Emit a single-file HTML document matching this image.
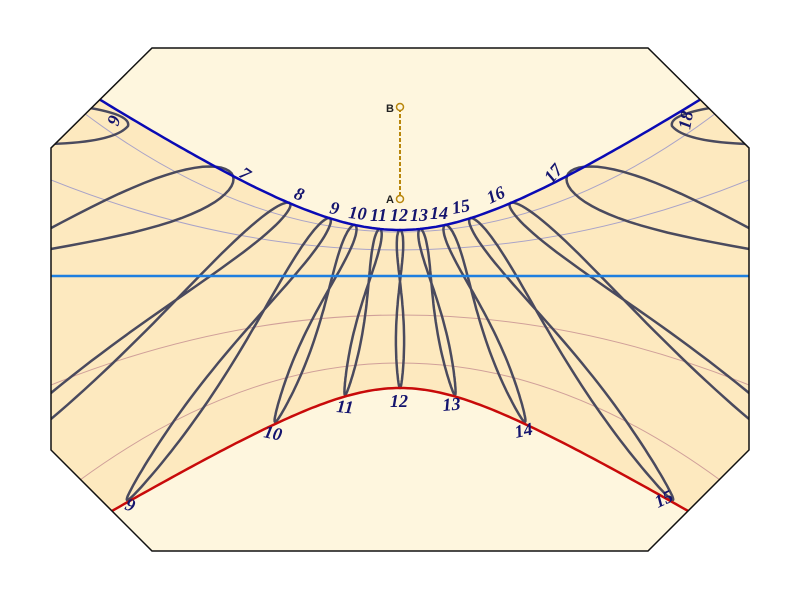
<!DOCTYPE html>
<html><head><meta charset="utf-8"><style>
html,body{margin:0;padding:0;background:#fff;width:800px;height:600px;overflow:hidden}
svg{display:block}
.lb{font-family:"Liberation Serif",serif;font-style:italic;font-weight:bold;font-size:18px;fill:#14146e}
</style></head><body>
<svg id="s" width="800" height="600" viewBox="0 0 800 600">
<defs><clipPath id="oct"><polygon points="152,48 648,48 749,148 749,450 648,551 152,551 51,450 51,148"/></clipPath></defs>
<polygon points="152,48 648,48 749,148 749,450 648,551 152,551 51,450 51,148" fill="#fef6de"/>
<g clip-path="url(#oct)">
<path id="dark" fill="#fde9bf"/>
<path d="M51,180 Q400,320 749,180" fill="none" stroke="#a9a3c8" stroke-width="1"/>
<path d="M80,110 Q400,354 720,110" fill="none" stroke="#a9a3c8" stroke-width="1"/>
<path d="M51,385 Q400,245 749,385" fill="none" stroke="#d0a09a" stroke-width="1"/>
<path d="M80,480 Q400,246 720,480" fill="none" stroke="#d0a09a" stroke-width="1"/>
<g id="ana" fill="none" stroke="#4a4a5e" stroke-width="2.5"></g>
<path d="M62,104 Q132,112 128,126 Q115,142 51,144" fill="none" stroke="#4a4a5e" stroke-width="2.5"/>
<path d="M738,104 Q668,112 672,126 Q685,142 749,144" fill="none" stroke="#4a4a5e" stroke-width="2.5"/>
<line x1="51" y1="276" x2="749" y2="276" stroke="#1e7fe0" stroke-width="2.5"/>
<path id="blue" fill="none" stroke="#0a0ab4" stroke-width="2.5"/>
<path id="red" fill="none" stroke="#c80a0a" stroke-width="2.5"/>
</g>
<polygon points="152,48 648,48 749,148 749,450 648,551 152,551 51,450 51,148" fill="none" stroke="#111" stroke-width="1.5"/>
<line x1="400" y1="108" x2="400" y2="198" stroke="#b8860b" stroke-width="2" stroke-dasharray="4,2"/>
<circle cx="400" cy="107" r="3.5" fill="#fef6de" stroke="#b8860b" stroke-width="1.5"/>
<circle cx="400" cy="199" r="3.5" fill="#fef6de" stroke="#b8860b" stroke-width="1.5"/>
<text x="386" y="112" font-family="Liberation Sans,sans-serif" font-size="11" font-weight="bold" fill="#222">B</text>
<text x="386" y="203" font-family="Liberation Sans,sans-serif" font-size="11" font-weight="bold" fill="#222">A</text>
<g class="lb">
<text transform="translate(110,114) rotate(110)">6</text>
<text transform="translate(238,176) rotate(35)">7</text>
<text transform="translate(293,198) rotate(20)">8</text>
<text transform="translate(329,213) rotate(12)">9</text>
<text transform="translate(348,218) rotate(6)">10</text>
<text x="370" y="221">11</text>
<text x="390" y="221">12</text>
<text x="410" y="221">13</text>
<text x="430" y="219">14</text>
<text transform="translate(453,214) rotate(-10)">15</text>
<text transform="translate(490,204) rotate(-25)">16</text>
<text transform="translate(552,184) rotate(-50)">17</text>
<text transform="translate(690,130) rotate(-80)">18</text>
<text transform="translate(124,509) rotate(20)">9</text>
<text transform="translate(263,437) rotate(12)">10</text>
<text transform="translate(336,412) rotate(5)">11</text>
<text x="390" y="407">12</text>
<text transform="translate(443,411) rotate(-5)">13</text>
<text transform="translate(516,438) rotate(-12)">14</text>
<text transform="translate(658,508) rotate(-25)">15</text>
</g>
</svg>
<script>
function by(x){var d=(x-400)/130;return 230-86*(Math.sqrt(1+d*d)-1);}
function ry(x){var d=(x-400)/100;return 388+60*(Math.sqrt(1+d*d)-1);}
var b="",r="",i;
for(i=0;i<=800;i+=4){b+=(i?"L":"M")+i+","+by(i).toFixed(1);}
for(i=800;i>=0;i-=4){r+=(i==800?"M":"L")+i+","+ry(i).toFixed(1);}
document.getElementById("blue").setAttribute("d",b);
var r2="";for(i=0;i<=800;i+=4){r2+=(i?"L":"M")+i+","+ry(i).toFixed(1);}
document.getElementById("red").setAttribute("d",r2);
document.getElementById("dark").setAttribute("d",b+r.replace("M","L")+"Z");
var hrs=[[233,by(233),-500,430,32],[290,by(290),-60,500,11],[330,by(330),127,500,9],[355,by(355),275,422,7],[380,by(380),345,395,5],[400,230,400,388,4.5],[420,by(420),455,395,5],[445,by(445),525,422,7],[470,by(470),673,500,9],[510,by(510),860,500,11],[567,by(567),1300,430,32]];
var g=document.getElementById("ana"),h="";
hrs.forEach(function(a){var tx=a[0],ty=a[1],bx=a[2],byy=a[3],W=a[4];
var dx=bx-tx,dy=byy-ty,L=Math.hypot(dx,dy),nx=-dy/L,ny=dx/L,p="";
for(var k=0;k<=120;k++){var t=k/120*2*Math.PI,s=(1-Math.cos(t))/2,o=W*2.2*Math.sin(t)*(Math.cos(t)-0.35)*(1.3-s);
var x=tx+dx*s+nx*o,y=ty+dy*s+ny*o;p+=(k?"L":"M")+x.toFixed(1)+","+y.toFixed(1);}
h+='<path d="'+p+'"/>';});
g.innerHTML=h;
</script>
</body></html>
